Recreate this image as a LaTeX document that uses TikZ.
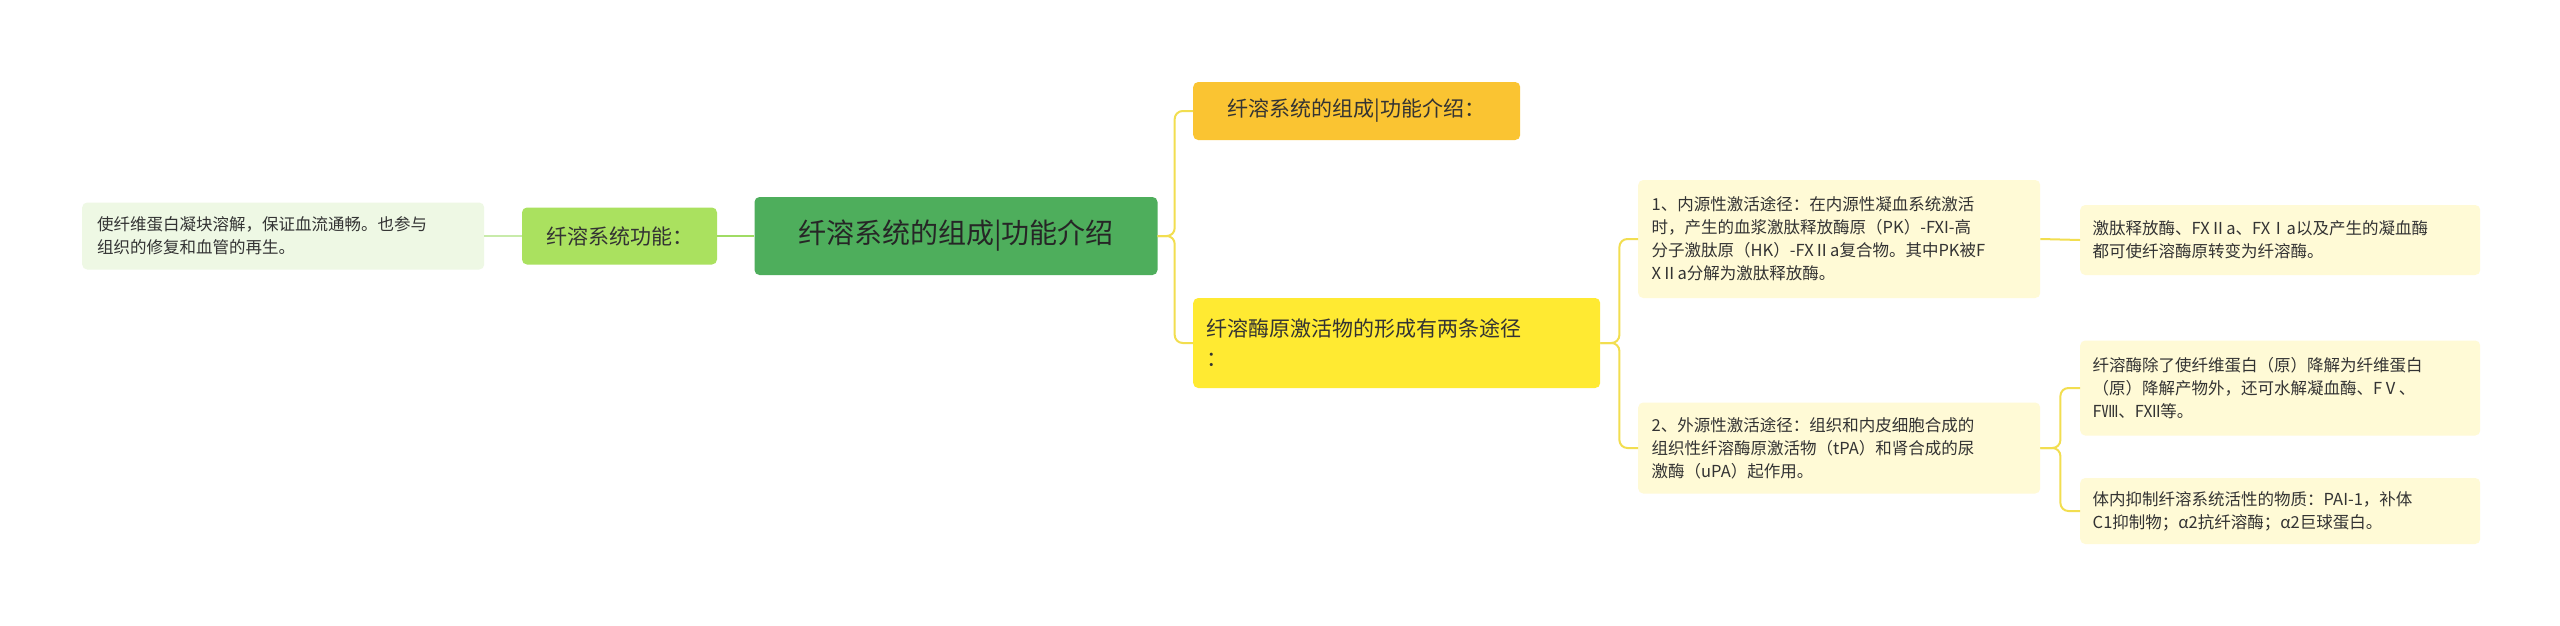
\documentclass[tikz,border=0pt]{standalone}
\usepackage{fontspec}
\setmainfont{Noto Sans CJK SC}
\definecolor{yl}{HTML}{F2DE50}
\definecolor{rootc}{RGB}{78,174,92}
\definecolor{fnc}{RGB}{170,225,95}
\definecolor{fnlc}{RGB}{238,248,228}
\definecolor{b1c}{RGB}{250,196,50}
\definecolor{b2c}{RGB}{255,234,50}
\definecolor{lc}{RGB}{255,250,214}
\definecolor{g1}{RGB}{160,220,100}
\definecolor{g2}{RGB}{200,235,170}
\begin{document}
\begin{tikzpicture}[x=1pt,y=-1pt,
  box/.style={rounded corners=5pt,inner sep=0pt,align=left,text=black!80},
  leaf/.style={box,fill=#1,font=\fontsize{16.5}{23}\selectfont,minimum width=402pt,anchor=west},
  lnk/.style={line width=2pt,color=#1,rounded corners=8pt}]
\fill[white] (0,0) rectangle (2560,625);
\node[box,fill=rootc,minimum width=403pt,minimum height=78pt,font=\fontsize{28}{32}\selectfont,align=center,text=black!85] (root) at (956,236) {纤溶系统的组成|功能介绍};
\node[box,fill=fnc,minimum width=195pt,minimum height=57pt,font=\fontsize{21}{26}\selectfont,align=center] (fn) at (619.5,236) {纤溶系统功能：};
\node[leaf=fnlc,minimum height=67pt] (fnl) at (82,236) {\hspace*{9pt}\parbox{381pt}{使纤维蛋白凝块溶解，保证血流通畅。也参与\\组织的修复和血管的再生。}};
\node[box,fill=b1c,minimum width=327pt,minimum height=58pt,font=\fontsize{21}{26}\selectfont,anchor=west,align=left] (b1) at (1193,111) {\hspace*{10pt}纤溶系统的组成|功能介绍：\hspace*{10pt}};
\node[box,fill=b2c,minimum width=407pt,minimum height=90pt,font=\fontsize{21}{30}\selectfont,anchor=west] (b2) at (1193,343) {\hspace*{10pt}\parbox{390pt}{纤溶酶原激活物的形成有两条途径\\：}};
\node[leaf=lc,minimum height=118pt] (c1) at (1638,239) {\hspace*{10pt}\parbox{385pt}{1、内源性激活途径：在内源性凝血系统激活\\时，产生的血浆激肽释放酶原（PK）-FXI-高\\分子激肽原（HK）-FXⅡa复合物。其中PK被F\\XⅡa分解为激肽释放酶。}};
\node[leaf=lc,minimum height=91pt] (c2) at (1638,448) {\hspace*{10pt}\parbox{385pt}{2、外源性激活途径：组织和内皮细胞合成的\\组织性纤溶酶原激活物（tPA）和肾合成的尿\\激酶（uPA）起作用。}};
\node[leaf=lc,minimum height=70pt,minimum width=400pt] (d1) at (2080,240) {\hspace*{10pt}\parbox{385pt}{激肽释放酶、FXⅡa、FXⅠa以及产生的凝血酶\\都可使纤溶酶原转变为纤溶酶。}};
\node[leaf=lc,minimum height=95pt,minimum width=400pt] (d2) at (2080,388) {\hspace*{10pt}\parbox{385pt}{纤溶酶除了使纤维蛋白（原）降解为纤维蛋白\\（原）降解产物外，还可水解凝血酶、FⅤ、\\FⅧ、FⅫ等。}};
\node[leaf=lc,minimum height=66pt,minimum width=400pt] (d3) at (2080,511) {\hspace*{10pt}\parbox{385pt}{体内抑制纤溶系统活性的物质：PAI-1，补体\\C1抑制物；α2抗纤溶酶；α2巨球蛋白。}};
\draw[lnk=g1] (root.west) -- (fn.east);
\draw[lnk=g2] (fn.west) -- (fnl.east);
\draw[lnk=yl] (root.east) -- ++(17,0) |- (b1.west);
\draw[lnk=yl] (root.east) -- ++(17,0) |- (b2.west);
\draw[lnk=yl] (b2.east) -- ++(19,0) |- (c1.west);
\draw[lnk=yl] (b2.east) -- ++(19,0) |- (c2.west);
\draw[lnk=yl] (c1.east) -- (d1.west);
\draw[lnk=yl] (c2.east) -- ++(20,0) |- (d2.west);
\draw[lnk=yl] (c2.east) -- ++(20,0) |- (d3.west);
\end{tikzpicture}
\end{document}
